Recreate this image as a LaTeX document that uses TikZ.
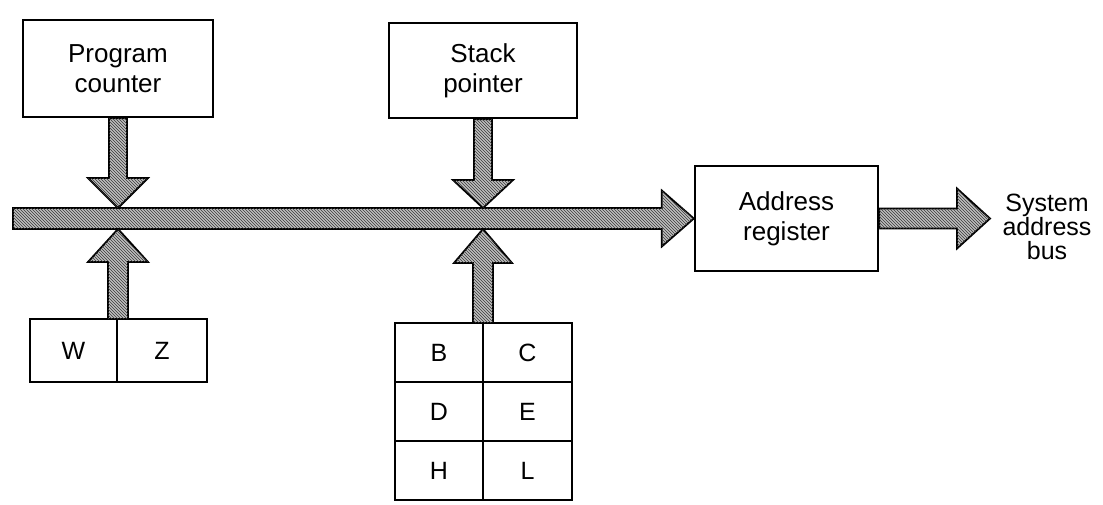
\documentclass[tikz,border=0pt]{standalone}
\usepackage{fontspec}
\setmainfont{Liberation Sans}
\usetikzlibrary{patterns,calc}
% vertical fat arrow: from, to, head length, shaft half width, head half width
\newcommand{\fatv}[5]{\draw[fatarr] let \p1=(#1),\p2=(#2),\n1={\y2-sign(\y2-\y1)*#3pt} in
  (\x1-#4pt,\y1) -- (\x1-#4pt,\n1) -- (\x1-#5pt,\n1) -- (\x1,\y2) -- (\x1+#5pt,\n1) -- (\x1+#4pt,\n1) -- (\x1+#4pt,\y1) -- cycle;}
% horizontal fat arrow
\newcommand{\fath}[5]{\draw[fatarr] let \p1=(#1),\p2=(#2),\n1={\x2-sign(\x2-\x1)*#3pt} in
  (\x1,\y1-#4pt) -- (\n1,\y1-#4pt) -- (\n1,\y1-#5pt) -- (\x2,\y1) -- (\n1,\y1+#5pt) -- (\n1,\y1+#4pt) -- (\x1,\y1+#4pt) -- cycle;}
\begin{document}
\begin{tikzpicture}[x=1pt,y=-1pt,
  box/.style={draw=black,line width=2.4pt,inner sep=0pt,align=center,font=\fontsize{26}{30}\selectfont},
  cell/.style={draw=black,line width=2.4pt,inner sep=0pt,font=\fontsize{25}{29}\selectfont},
  fatarr/.style={draw=black,line width=1.8pt,line join=miter,fill=gray!50,
    postaction={pattern=north west lines,pattern color=gray!45!black}}]
\useasboundingbox (0,0) rectangle (1103,504);
% boxes
\node[box,minimum width=190pt,minimum height=97pt] (pc) at (118,68.5) {Program\\counter};
\node[box,minimum width=188pt,minimum height=95pt] (sp) at (483,70.5) {Stack\\pointer};
\node[box,minimum width=183pt,minimum height=105pt] (ar) at (786.5,218.5) {Address\\register};
\node[align=center,inner sep=0pt,font=\fontsize{25}{24}\selectfont] (sab) at (1047,227) {System\\address\\bus};
% W Z
\node[cell,minimum width=87pt,minimum height=63pt] (w) at (73.5,350.5) {W};
\node[cell,minimum width=90pt,minimum height=63pt] (z) at (162,350.5) {Z};
% register pairs
\node[cell,minimum width=88pt,minimum height=59pt] (b) at (439,352.5) {B};
\node[cell,minimum width=89pt,minimum height=59pt] (c) at (527.5,352.5) {C};
\node[cell,minimum width=88pt,minimum height=59pt] (d) at (439,411.5) {D};
\node[cell,minimum width=89pt,minimum height=59pt] (e) at (527.5,411.5) {E};
\node[cell,minimum width=88pt,minimum height=59pt] (h) at (439,470.5) {H};
\node[cell,minimum width=89pt,minimum height=59pt] (l) at (527.5,470.5) {L};
% bus coordinates
\coordinate (busL) at (13,218.5);
\coordinate (pcT) at (118,208);
\coordinate (wzT) at (118,229);
\coordinate (spT) at (483,208);
\coordinate (bcT) at (483,229);
\coordinate (sabT) at (990,218.5);
\coordinate (wzB) at (118,319);
\coordinate (bcB) at (483,323);
% internal bus
\fath{busL}{ar.west}{32}{10.5}{28}
% arrows onto the bus
\fatv{pc.south}{pcT}{30}{9}{30}
\fatv{sp.south}{spT}{28}{9}{30}
\fatv{wzB}{wzT}{33}{10}{30}
\fatv{bcB}{bcT}{34}{10}{29}
% output
\fath{ar.east}{sabT}{33}{10}{30}
\end{tikzpicture}
\end{document}
